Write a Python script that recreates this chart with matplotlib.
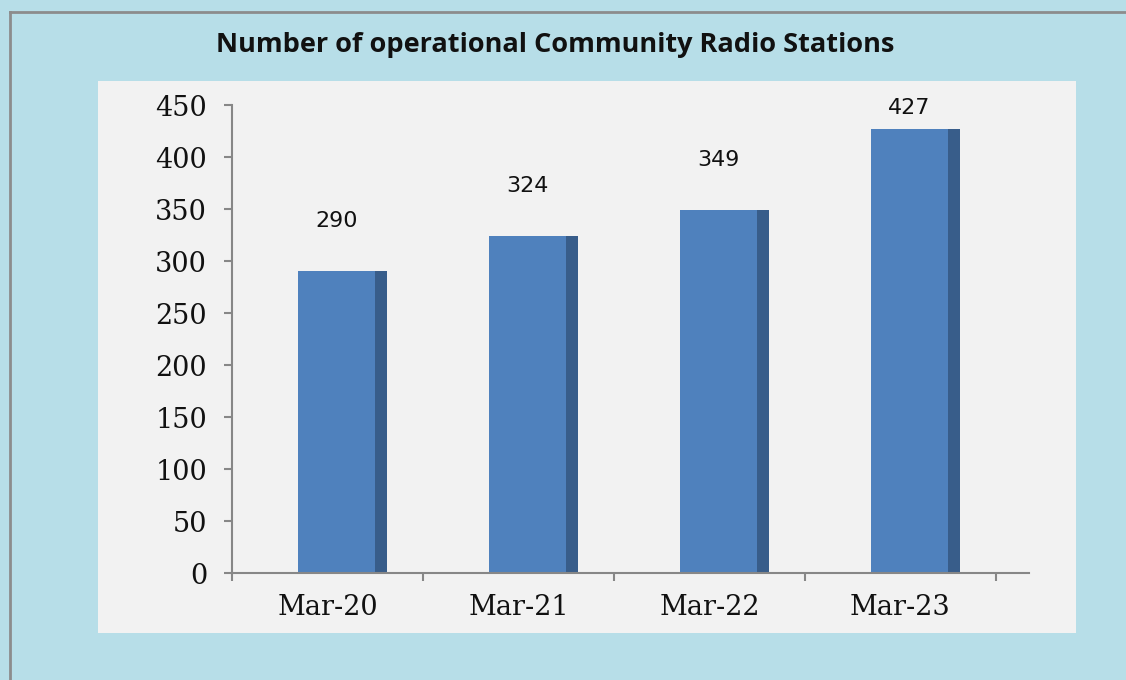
import matplotlib.pyplot as plt
import matplotlib.patches as patches
from matplotlib.lines import Line2D
import numpy as np

categories = ["Mar-20", "Mar-21", "Mar-22", "Mar-23"]
stations = [290, 324, 349, 427]
title = "Number of operational Community Radio Stations"

W, H = 1126, 680
fig = plt.figure(figsize=(W / 100, H / 100), dpi=100)
fig.patch.set_facecolor("#B7DEE8")

# gray frame on left / top edges
fig.add_artist(Line2D([10 / W, 10 / W], [0, 1 - 12 / H], color="#8C8C8C", lw=2))
fig.add_artist(Line2D([10 / W, 1], [1 - 12 / H, 1 - 12 / H], color="#8C8C8C", lw=2))

# light plot panel (behind the axes)
fig.add_artist(patches.Rectangle((98 / W, 1 - 633 / H), (1076 - 98) / W, (633 - 81) / H,
                                 transform=fig.transFigure, facecolor="#F2F2F2",
                                 edgecolor="none", zorder=-1))

fig.text(555 / W, 1 - 45 / H, title, ha="center", va="center",
         fontsize=19.5, fontweight="bold", family="Open Sans", color="#111111")

ax = fig.add_axes([232 / W, 1 - 573 / H, (1029 - 232) / W, (573 - 105) / H])
ax.set_facecolor("none")

x = np.arange(len(categories))
front_w, side_w, shift = 0.403, 0.063, 0.047
ax.bar(x + shift, stations, width=front_w, color="#4F81BD", edgecolor="none")
ax.bar(x + shift + front_w / 2 + side_w / 2, stations, width=side_w, color="#385D8A", edgecolor="none")

for xi, v in zip(x, stations):
    ax.text(xi + shift, min(v + 48, 447), str(v), ha="center", va="center",
            fontsize=16, family="DejaVu Sans", color="#111111")

ax.set_xlim(-0.5, 3.673)
ax.set_ylim(0, 450)
ax.set_yticks(np.arange(0, 451, 50))
ax.set_xticks(np.arange(-0.5, 4, 1))
ax.set_xticklabels([])
ax.set_xticks(x + 0.0, minor=True)
ax.set_xticklabels(categories, minor=True)
ax.tick_params(axis="x", which="minor", length=0, pad=15)
ax.tick_params(axis="x", which="major", length=6, color="#878787", width=1.5)
ax.tick_params(axis="y", length=6, color="#878787", width=1.5, pad=12)
for lab in ax.get_xticklabels(minor=True) + ax.get_yticklabels():
    lab.set_fontfamily("DejaVu Serif")
    lab.set_fontsize(19.5)
    lab.set_color("#111111")

for s in ["top", "right"]:
    ax.spines[s].set_visible(False)
for s in ["left", "bottom"]:
    ax.spines[s].set_color("#878787")
    ax.spines[s].set_linewidth(1.5)

fig.savefig("out.png", dpi=100, facecolor=fig.get_facecolor())
